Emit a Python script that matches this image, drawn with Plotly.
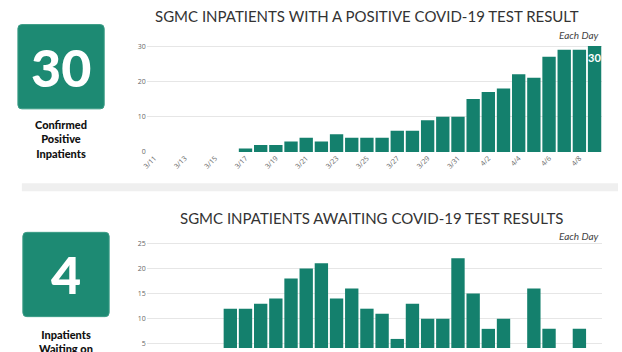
import plotly.graph_objects as go

# ---- data ----
dates = ["3/11", "3/12", "3/13", "3/14", "3/15", "3/16", "3/17", "3/18", "3/19", "3/20",
         "3/21", "3/22", "3/23", "3/24", "3/25", "3/26", "3/27", "3/28", "3/29", "3/30",
         "3/31", "4/1", "4/2", "4/3", "4/4", "4/5", "4/6", "4/7", "4/8", "4/9"]
positive = [0, 0, 0, 0, 0, 0, 1, 2, 2, 3, 4, 3, 5, 4, 4, 4, 6, 6, 9, 10,
            10, 15, 17, 18, 22, 21, 27, 29, 29, 30]
awaiting = [0, 0, 0, 0, 0, 12, 12, 13, 14, 18, 20, 21, 14, 16, 12, 11, 6, 13, 10, 10,
            22, 15, 8, 10, 0, 16, 8, 0, 8, 4]
top_ticks = [0, 10, 20, 30]
bottom_ticks = [5, 10, 15, 20, 25]
title_top = "SGMC INPATIENTS WITH A POSITIVE COVID-19 TEST RESULT"
title_bottom = "SGMC INPATIENTS AWAITING COVID-19 TEST RESULTS"
caption_top = ["Confirmed", "Positive", "Inpatients"]
caption_bottom = ["Inpatients", "Waiting on"]

W, H = 622, 352
TEAL = "#14806d"
BOX = "#1d8a73"
TITLE_FONT = "Lato"


def px(x):
    return x / W


def py(y):
    return 1 - y / H


def rounded(x0, y0, x1, y1, r=4):
    rx, ry = r / W, r / H
    X0, X1 = px(x0), px(x1)
    Y0, Y1 = py(y0), py(y1)  # Y0 top, Y1 bottom
    return (f"M {X0+rx},{Y0} L {X1-rx},{Y0} Q {X1},{Y0} {X1},{Y0-ry} "
            f"L {X1},{Y1+ry} Q {X1},{Y1} {X1-rx},{Y1} L {X0+rx},{Y1} "
            f"Q {X0},{Y1} {X0},{Y1+ry} L {X0},{Y0-ry} Q {X0},{Y0} {X0+rx},{Y0} Z")


fig = go.Figure()
fig.add_trace(go.Bar(x=dates, y=positive, xaxis="x", yaxis="y",
                     marker=dict(color=TEAL, line=dict(width=0)), hoverinfo="x+y"))
fig.add_trace(go.Bar(x=dates, y=awaiting, xaxis="x2", yaxis="y2",
                     marker=dict(color=TEAL, line=dict(width=0)), hoverinfo="x+y"))

xdom = [px(143), px(602)]
tickfont = dict(family="Open Sans", size=7, color="#666666")

fig.update_layout(
    width=W, height=H,
    margin=dict(l=0, r=0, t=0, b=0),
    paper_bgcolor="white", plot_bgcolor="white",
    showlegend=False, bargap=0.12,
    xaxis=dict(domain=xdom, anchor="y", type="category", range=[-0.5, len(dates) - 0.5],
               tickmode="array", tickvals=dates[::2], ticktext=dates[::2], tickangle=-45,
               tickfont=tickfont, showgrid=False, showline=False, ticks="", zeroline=False),
    yaxis=dict(domain=[py(152), py(42)], anchor="x", range=[0, 30.55],
               tickmode="array", tickvals=top_ticks, tickfont=tickfont,
               gridcolor="#e6e6e6", gridwidth=1, zeroline=False, showline=False, ticks=""),
    xaxis2=dict(domain=xdom, anchor="y2", type="category", range=[-0.5, len(dates) - 0.5],
                showticklabels=False, showgrid=False, showline=False, ticks="", zeroline=False),
    yaxis2=dict(domain=[0, py(243)], anchor="x2", range=[4.2, 25.4],
                tickmode="array", tickvals=bottom_ticks, tickfont=tickfont,
                gridcolor="#e6e6e6", gridwidth=1, zeroline=False, showline=False, ticks=""),
)

shapes = [
    dict(type="rect", xref="paper", yref="paper", x0=px(17), x1=px(618), y0=py(192), y1=py(184),
         fillcolor="#efefef", line=dict(width=0), layer="below"),
    dict(type="path", xref="paper", yref="paper", path=rounded(13, 22, 100, 108),
         fillcolor=BOX, line=dict(color="#3c9c86", width=1)),
    dict(type="path", xref="paper", yref="paper", path=rounded(18, 234, 105, 320),
         fillcolor=BOX, line=dict(color="#3c9c86", width=1)),
]
fig.update_layout(shapes=shapes)

ann = []
ann.append(dict(text=title_top, x=px(365), y=py(13), xref="paper", yref="paper",
                xanchor="center", yanchor="middle", showarrow=False,
                font=dict(family=TITLE_FONT, size=15, color="#333333")))
ann.append(dict(text=title_bottom, x=px(369), y=py(219), xref="paper", yref="paper",
                xanchor="center", yanchor="middle", showarrow=False,
                font=dict(family=TITLE_FONT, size=15, color="#333333")))
for yy in (33, 238):
    ann.append(dict(text="<i>Each Day</i>", x=px(601), y=py(yy), xref="paper", yref="paper",
                    xanchor="right", yanchor="middle", showarrow=False,
                    font=dict(family=TITLE_FONT, size=10, color="#444444")))
# value label on last bar
ann.append(dict(text=f"<b>{positive[-1]}</b>", x=dates[-1], y=positive[-1], xref="x", yref="y",
                xanchor="center", yanchor="top", yshift=-3, showarrow=False,
                font=dict(family=TITLE_FONT, size=11, color="white")))
# big numbers
ann.append(dict(text=str(positive[-1]), x=px(56.5), y=py(65), xref="paper", yref="paper",
                xanchor="center", yanchor="middle", showarrow=False,
                font=dict(family=TITLE_FONT, size=52, color="white", weight=900)))
ann.append(dict(text=str(awaiting[-1]), x=px(61.5), y=py(277), xref="paper", yref="paper",
                xanchor="center", yanchor="middle", showarrow=False,
                font=dict(family=TITLE_FONT, size=52, color="white", weight=900)))
ann.append(dict(text="<br>".join(caption_top), x=px(56.5), y=py(139), xref="paper", yref="paper",
                xanchor="center", yanchor="middle", align="center", showarrow=False,
                font=dict(family=TITLE_FONT, size=11, color="#111111", weight=900)))
ann.append(dict(text="<br>".join(caption_bottom), x=px(61.5), y=py(330), xref="paper", yref="paper",
                xanchor="center", yanchor="top", align="center", showarrow=False,
                font=dict(family=TITLE_FONT, size=11, color="#111111", weight=900)))
fig.update_layout(annotations=ann)

fig.write_html("out.html")
